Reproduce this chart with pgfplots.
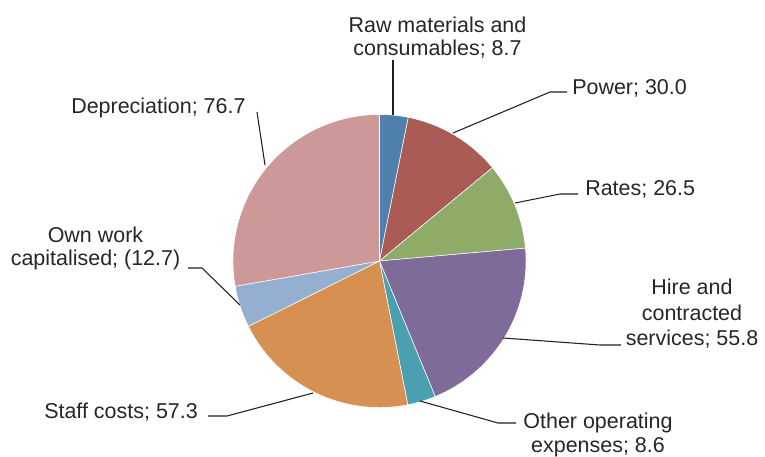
\documentclass[border=0pt]{standalone}
\usepackage{pgfplots}
\pgfplotsset{compat=1.18}
\usepackage{pgfplotstable}
\usepackage{fontspec}
\setmainfont{Liberation Sans}
\definecolor{cRaw}{HTML}{4E80AB}
\definecolor{cPow}{HTML}{AA5B55}
\definecolor{cRat}{HTML}{8FAB68}
\definecolor{cHir}{HTML}{7E6B99}
\definecolor{cOth}{HTML}{4AA0B0}
\definecolor{cSta}{HTML}{D69152}
\definecolor{cOwn}{HTML}{94AFCF}
\definecolor{cDep}{HTML}{CD9898}
\definecolor{txt}{HTML}{262626}
\definecolor{lead}{HTML}{202020}

% absolute values of the slices, clockwise from 12 o'clock
\pgfplotstableread{
label value
Raw 8.7
Power 30.0
Rates 26.5
Hire 55.8
Other 8.6
Staff 57.3
OwnWork 12.7
Depreciation 76.7
}\piedata

\gdef\tot{0}
\foreach \i in {0,...,7}{%
  \pgfplotstablegetelem{\i}{value}\of\piedata
  \pgfmathsetmacro\tmp{\tot+\pgfplotsretval}%
  \xdef\tot{\tmp}}
\gdef\cur{90}
\foreach \i/\n in {0/a,1/b,2/c,3/d,4/e,5/f,6/g,7/h}{%
  \pgfplotstablegetelem{\i}{value}\of\piedata
  \pgfmathsetmacro\tmp{\cur-\pgfplotsretval/\tot*360}%
  \expandafter\xdef\csname aS\n\endcsname{\cur}%
  \expandafter\xdef\csname aE\n\endcsname{\tmp}%
  \xdef\cur{\tmp}}
\def\R{109.9pt}

\begin{document}
\begin{tikzpicture}
\begin{axis}[scale only axis, width=573.75pt, height=342.75pt,
  xmin=0, xmax=765, ymin=0, ymax=457, y dir=reverse,
  hide axis, clip=false]
\path (axis cs:0,0) rectangle (axis cs:765,457);
\tikzset{sl/.style={draw=white, line width=0.4pt},
  leader/.style={draw=lead, line width=0.8pt},
  lbl/.style={text=txt, inner sep=0pt, font=\fontsize{16.1}{19}\selectfont}}
\path[sl, fill=cRaw] (axis cs:379.5,261) -- ++(\aSa:\R) arc[start angle=\aSa, end angle=\aEa, radius=\R] -- cycle;
\path[sl, fill=cPow] (axis cs:379.5,261) -- ++(\aSb:\R) arc[start angle=\aSb, end angle=\aEb, radius=\R] -- cycle;
\path[sl, fill=cRat] (axis cs:379.5,261) -- ++(\aSc:\R) arc[start angle=\aSc, end angle=\aEc, radius=\R] -- cycle;
\path[sl, fill=cHir] (axis cs:379.5,261) -- ++(\aSd:\R) arc[start angle=\aSd, end angle=\aEd, radius=\R] -- cycle;
\path[sl, fill=cOth] (axis cs:379.5,261) -- ++(\aSe:\R) arc[start angle=\aSe, end angle=\aEe, radius=\R] -- cycle;
\path[sl, fill=cSta] (axis cs:379.5,261) -- ++(\aSf:\R) arc[start angle=\aSf, end angle=\aEf, radius=\R] -- cycle;
\path[sl, fill=cOwn] (axis cs:379.5,261) -- ++(\aSg:\R) arc[start angle=\aSg, end angle=\aEg, radius=\R] -- cycle;
\path[sl, fill=cDep] (axis cs:379.5,261) -- ++(\aSh:\R) arc[start angle=\aSh, end angle=\aEh, radius=\R] -- cycle;

% leader lines
\draw[leader] (axis cs:393,115) -- (axis cs:393,60);
\draw[leader] (axis cs:453,133) -- (axis cs:550,92) -- (axis cs:567,92);
\draw[leader] (axis cs:515,203) -- (axis cs:560,194) -- (axis cs:578,194);
\draw[leader] (axis cs:503,338) -- (axis cs:600,345) -- (axis cs:621,345);
\draw[leader] (axis cs:420,401) -- (axis cs:498,423) -- (axis cs:516,423);
\draw[leader] (axis cs:313,393) -- (axis cs:227,416) -- (axis cs:208,416);
\draw[leader] (axis cs:240,305) -- (axis cs:202,268) -- (axis cs:188,268);
\draw[leader] (axis cs:265,165) -- (axis cs:257,112);

% labels
\node[lbl, anchor=base] at (axis cs:437.5,32) {Raw materials and};
\node[lbl, anchor=base] at (axis cs:437.5,55) {consumables; 8.7};
\node[lbl, anchor=base west] at (axis cs:572,94) {Power; 30.0};
\node[lbl, anchor=base west] at (axis cs:585,195) {Rates; 26.5};
\node[lbl, anchor=base] at (axis cs:692,294) {Hire and};
\node[lbl, anchor=base] at (axis cs:692,320) {contracted};
\node[lbl, anchor=base] at (axis cs:692,345) {services; 55.8};
\node[lbl, anchor=base] at (axis cs:598,428) {Other operating};
\node[lbl, anchor=base] at (axis cs:598,452) {expenses; 8.6};
\node[lbl, anchor=base west] at (axis cs:44,418) {Staff costs; 57.3};
\node[lbl, anchor=base] at (axis cs:95.5,242) {Own work};
\node[lbl, anchor=base] at (axis cs:95.5,265) {capitalised; (12.7)};
\node[lbl, anchor=base west] at (axis cs:71,113) {Depreciation; 76.7};
\end{axis}
\end{tikzpicture}
\end{document}
